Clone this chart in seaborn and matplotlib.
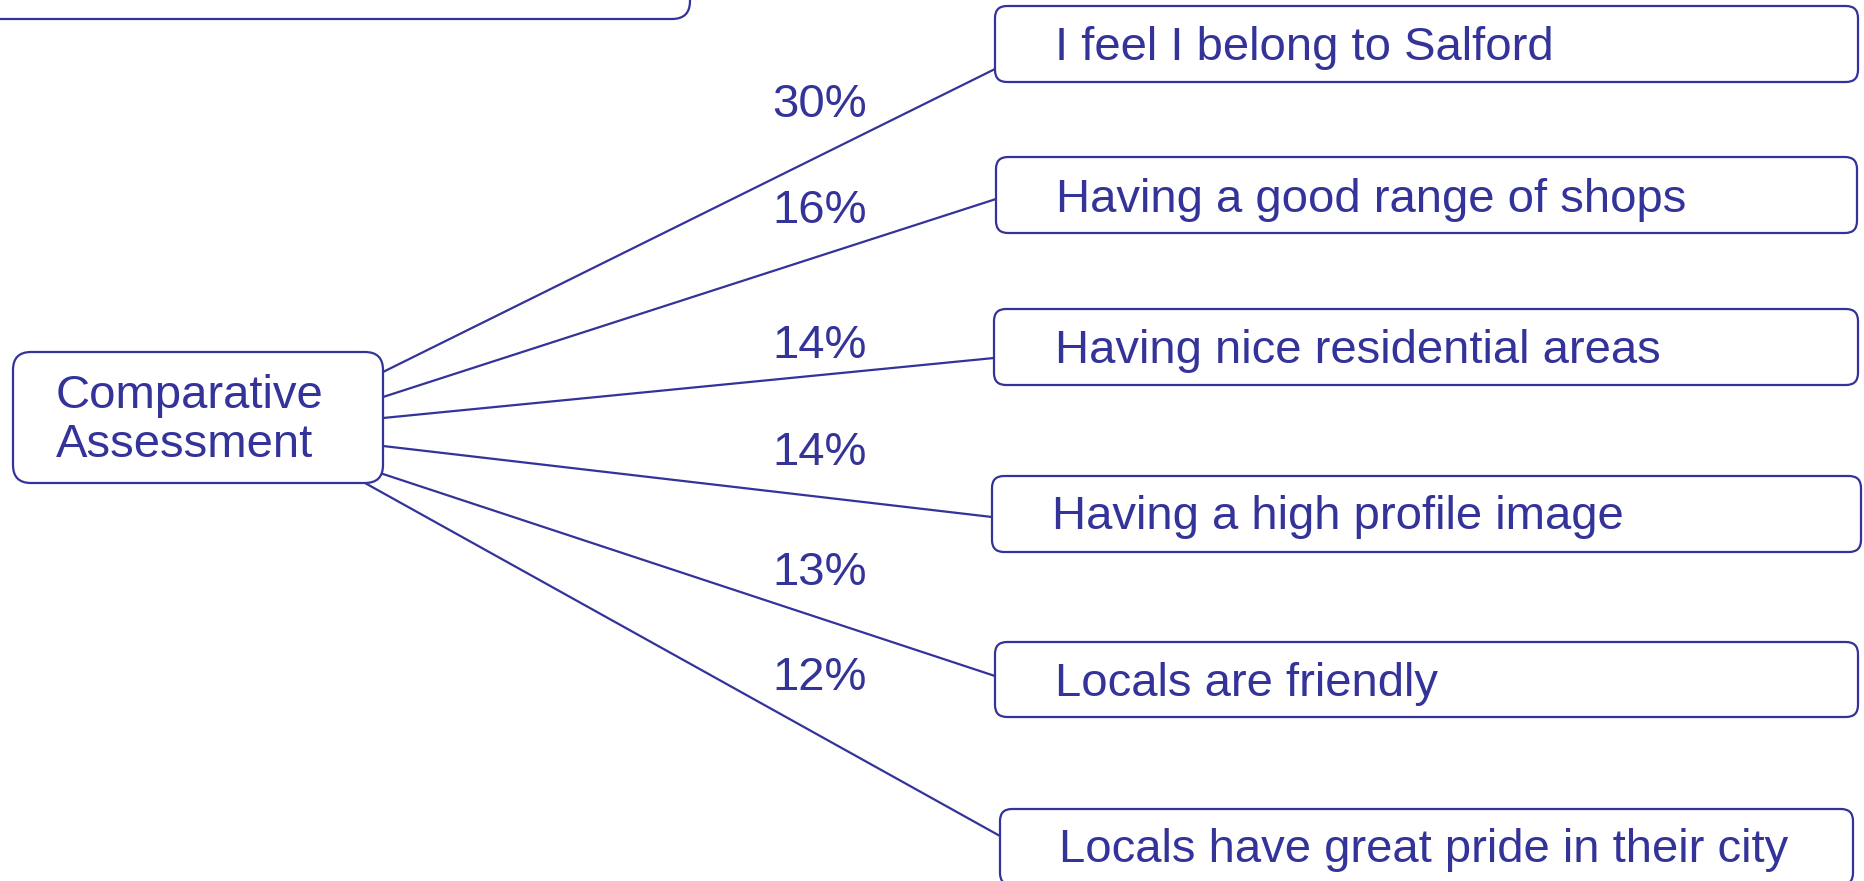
import pandas as pd
import matplotlib.pyplot as plt
import seaborn as sns
from matplotlib.patches import FancyBboxPatch

# data
root_label = ['Comparative', 'Assessment']
items = ['I feel I belong to Salford', 'Having a good range of shops', 'Having nice residential areas',
         'Having a high profile image', 'Locals are friendly', 'Locals have great pride in their city']
pcts = [30, 16, 14, 14, 13, 12]

# layout (pixels, figure is 1865x881, y grows downward)
item_boxes = [(995, 6, 1858, 82), (996, 157, 1857, 233), (994, 309, 1858, 385),
              (992, 476, 1861, 552), (995, 642, 1858, 717), (1000, 809, 1853, 885)]
text_x = [1055, 1056, 1055, 1052, 1055, 1059]
text_base = [60, 212, 363, 529, 696, 862]
pct_base = [117, 223, 358, 465, 585, 690]
start_pts = [(383, 372), (383, 397), (383, 418), (383, 446), (380, 473), (365, 483)]
root_box = (13, 352, 383, 483)
top_box = (-20, -80, 690, 19)

ink = '#333399'
sns.set_style('white')
plt.rcParams['font.family'] = ['Liberation Sans', 'DejaVu Sans']

fig = plt.figure(figsize=(18.65, 8.81), dpi=100)
ax = fig.add_axes([0, 0, 1, 1])
ax.set_xlim(0, 1865)
ax.set_ylim(881, 0)
ax.axis('off')

# connectors
rows = []
for i, (item, (sx, sy), box) in enumerate(zip(items, start_pts, item_boxes)):
    ex = box[0]
    ey = {0: 69, 1: 199, 2: 358, 3: 517, 4: 676, 5: 836}[i]
    rows.append({'item': item, 'x': sx, 'y': sy, 'k': 0})
    rows.append({'item': item, 'x': ex, 'y': ey, 'k': 1})
links = pd.DataFrame(rows)
sns.lineplot(data=links, x='x', y='y', units='item', estimator=None, sort=False,
             color=ink, lw=1.6, ax=ax, legend=False)
ax.set_xlim(0, 1865)
ax.set_ylim(881, 0)
ax.axis('off')


def rbox(b, r):
    x0, y0, x1, y1 = b
    ax.add_patch(FancyBboxPatch((x0, y0), x1 - x0, y1 - y0,
                                boxstyle=f'round,pad=0,rounding_size={r}',
                                fc='white', ec=ink, lw=1.6, zorder=3))


rbox(top_box, 18)
rbox(root_box, 18)
ax.text(56, 408, root_label[0], color=ink, fontsize=34, va='baseline', ha='left', zorder=4)
ax.text(56, 457, root_label[1], color=ink, fontsize=34, va='baseline', ha='left', zorder=4)

for item, b, tx, tb, p, pb in zip(items, item_boxes, text_x, text_base, pcts, pct_base):
    rbox(b, 12)
    ax.text(tx, tb, item, color=ink, fontsize=34, va='baseline', ha='left', zorder=4)
    ax.text(867, pb, f'{p}%', color=ink, fontsize=34, va='baseline', ha='right', zorder=4)

fig.savefig('out.png', dpi=100)
